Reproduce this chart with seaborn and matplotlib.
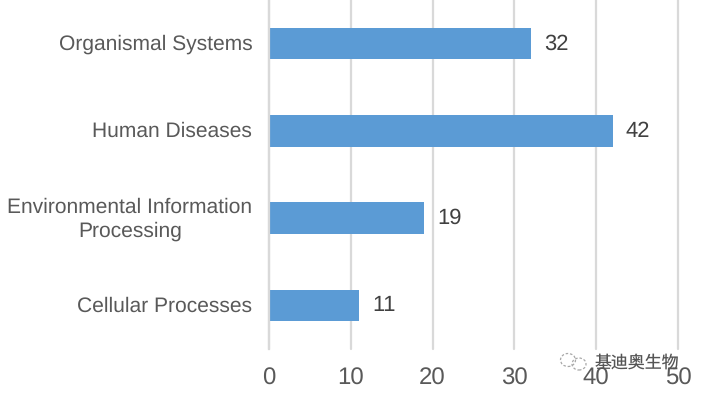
import matplotlib
matplotlib.use("Agg")
import matplotlib.pyplot as plt
import matplotlib.transforms as mtrans
from matplotlib.patches import Ellipse
import seaborn as sns
import pandas as pd

categories = ["Organismal Systems", "Human Diseases", "Environmental Information\nProcessing", "Cellular Processes"]
values = [32, 42, 19, 11]
xticks = [0, 10, 20, 30, 40, 50]
bar_color = "#5B9BD5"
grid_color = "#D9D9D9"
text_color = "#595959"

sns.set_theme(style="white")
plt.rcParams['font.family'] = ['Liberation Sans', 'Noto Sans CJK SC', 'DejaVu Sans']
plt.rcParams['text.hinting'] = 'no_hinting'
plt.rcParams['text.hinting_factor'] = 1

df = pd.DataFrame({"category": categories, "value": values})
fig = plt.figure(figsize=(7.01, 3.93), dpi=100, facecolor="white")
ax = fig.add_axes([269/701, 1-349/393, (678-269)/701, 349/393])
sns.barplot(data=df, y="category", x="value", color=bar_color, saturation=1, width=0.36, ax=ax, zorder=3, linewidth=0)
ax.set_xlim(0, 50)
ax.set_ylim(3.5, -0.5)
ax.set_xticks(xticks)
ax.set_xlabel("")
ax.set_ylabel("")
ax.xaxis.grid(True, color=grid_color, lw=1.6)
for gl in ax.get_xgridlines():
    gl.set_clip_on(False)
ax.set_axisbelow(True)
for s in ["top", "right", "bottom"]:
    ax.spines[s].set_visible(False)
ax.spines["left"].set_color(grid_color)
ax.spines["left"].set_linewidth(1.6)
ax.spines["left"].set_zorder(4)
ax.tick_params(axis="x", length=0, labelsize=17.5, labelcolor=text_color, pad=13)
ax.tick_params(axis="y", length=0, labelsize=14.8, labelcolor=text_color, pad=12)
shift = mtrans.ScaledTranslation(0, 1.5/100, fig.dpi_scale_trans)
shift_wrapped = mtrans.ScaledTranslation(0, 3/100, fig.dpi_scale_trans)
for tick, name in zip(ax.yaxis.get_major_ticks(), categories):
    lab = tick.label1
    lab.set_multialignment("center")
    lab.set_linespacing(1.3)
    lab.set_transform(lab.get_transform() + (shift_wrapped if "\n" in name else shift))
for i, v in enumerate(values):
    ax.annotate(str(v), (v, i), xytext=(13, 0), textcoords="offset pixels",
                va="center", ha="left", fontsize=15.6, color="#404040")
fig.text(595/701, 1-362.5/393, "基迪奥生物", fontsize=12.2, color="#555555", va="center", ha="left",
         family=['Noto Sans CJK SC', 'DejaVu Sans'], zorder=5)
# faint WeChat-style watermark icon
icon_kw = dict(fill=False, edgecolor="#A8A8A8", linewidth=0.9, linestyle=(0, (2, 1.5)),
               transform=None, zorder=5)
for (cx, cy, w, h) in [(568, 360, 15, 13), (579, 364, 14, 12)]:
    fig.add_artist(Ellipse((cx, 393 - cy), w, h, **icon_kw))
fig.savefig("out.png", dpi=100)
